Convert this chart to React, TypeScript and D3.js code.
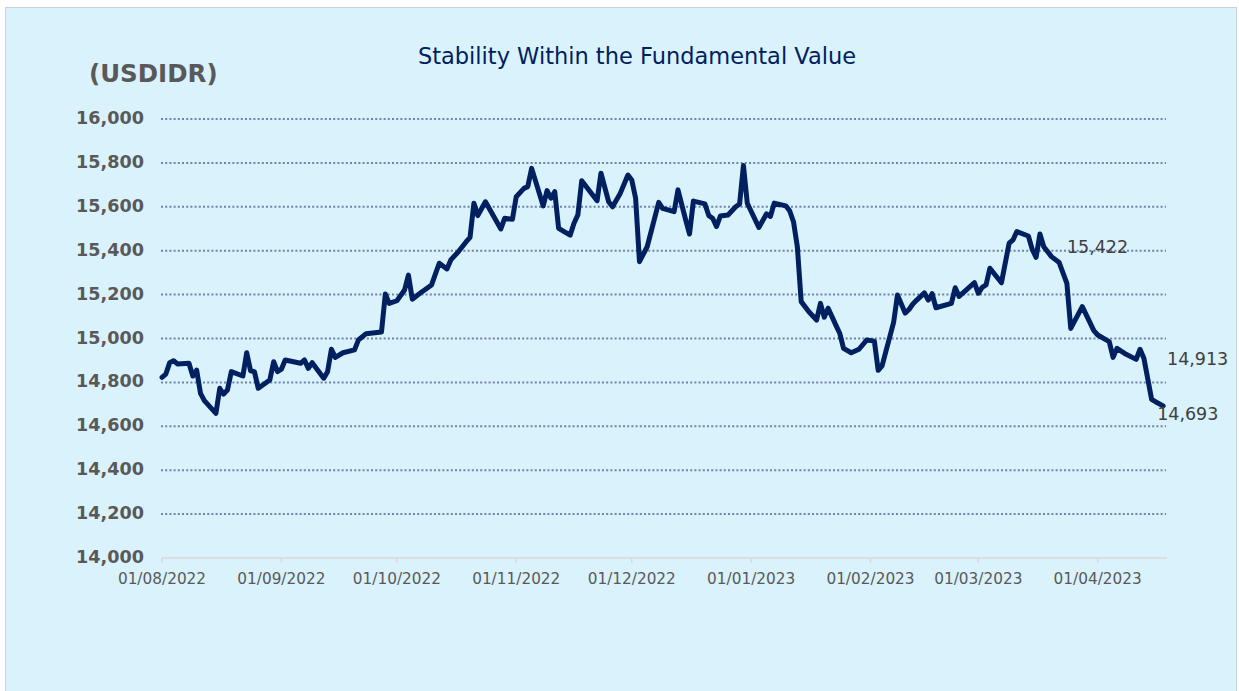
import React from "react";
import * as d3 from "d3";

const dates: string[] = [
  "2022-08-01","2022-08-02","2022-08-03","2022-08-04","2022-08-05","2022-08-08","2022-08-09","2022-08-10","2022-08-11","2022-08-12",
  "2022-08-15","2022-08-16","2022-08-17","2022-08-18","2022-08-19","2022-08-22","2022-08-23","2022-08-24","2022-08-25","2022-08-26",
  "2022-08-29","2022-08-30","2022-08-31","2022-09-01","2022-09-02","2022-09-06","2022-09-07","2022-09-08","2022-09-09","2022-09-12",
  "2022-09-13","2022-09-14","2022-09-15","2022-09-17","2022-09-20","2022-09-21","2022-09-23","2022-09-27","2022-09-28","2022-09-29",
  "2022-10-01","2022-10-03","2022-10-04","2022-10-05","2022-10-07","2022-10-10","2022-10-12","2022-10-14","2022-10-15","2022-10-17",
  "2022-10-19","2022-10-20","2022-10-21","2022-10-22","2022-10-24","2022-10-28","2022-10-29","2022-10-31","2022-11-01","2022-11-03",
  "2022-11-04","2022-11-05","2022-11-08","2022-11-09","2022-11-10","2022-11-11","2022-11-12","2022-11-15","2022-11-16","2022-11-17",
  "2022-11-18","2022-11-22","2022-11-23","2022-11-25","2022-11-26","2022-11-28","2022-11-30","2022-12-01","2022-12-02","2022-12-03",
  "2022-12-05","2022-12-08","2022-12-09","2022-12-12","2022-12-13","2022-12-15","2022-12-16","2022-12-17","2022-12-20","2022-12-21",
  "2022-12-22","2022-12-23","2022-12-24","2022-12-26","2022-12-28","2022-12-29","2022-12-30","2022-12-31","2023-01-03","2023-01-05",
  "2023-01-06","2023-01-07","2023-01-10","2023-01-11","2023-01-12","2023-01-13","2023-01-14","2023-01-16","2023-01-18","2023-01-19",
  "2023-01-20","2023-01-21","2023-01-23","2023-01-24","2023-01-25","2023-01-27","2023-01-29","2023-01-31","2023-02-02","2023-02-03",
  "2023-02-04","2023-02-07","2023-02-08","2023-02-10","2023-02-11","2023-02-12","2023-02-13","2023-02-15","2023-02-16","2023-02-17",
  "2023-02-18","2023-02-22","2023-02-23","2023-02-24","2023-02-28","2023-03-01","2023-03-02","2023-03-03","2023-03-04","2023-03-07",
  "2023-03-09","2023-03-10","2023-03-11","2023-03-14","2023-03-15","2023-03-16","2023-03-17","2023-03-18","2023-03-20","2023-03-22",
  "2023-03-24","2023-03-25","2023-03-28","2023-03-31","2023-04-01","2023-04-04","2023-04-05","2023-04-06","2023-04-08","2023-04-11",
  "2023-04-12","2023-04-13","2023-04-15","2023-04-16","2023-04-18",
];

const usdidr: number[] = [
  14823,14838,14890,14899,14884,14887,14829,14856,14750,14717,
  14659,14773,14747,14765,14849,14829,14935,14853,14849,14773,
  14811,14894,14849,14860,14902,14887,14902,14864,14890,14819,
  14849,14951,14914,14935,14948,14993,15022,15030,15203,15160,
  15172,15221,15289,15179,15206,15244,15343,15317,15358,15396,
  15441,15461,15616,15560,15623,15499,15548,15543,15646,15684,
  15692,15775,15604,15674,15639,15669,15502,15471,15525,15563,
  15719,15628,15753,15623,15600,15661,15745,15722,15639,15350,
  15418,15620,15593,15578,15677,15540,15476,15626,15613,15560,
  15548,15510,15558,15563,15600,15613,15788,15616,15506,15568,
  15556,15617,15604,15582,15532,15418,15168,15122,15084,15160,
  15097,15138,15061,15024,14955,14935,14951,14993,14988,14855,
  14875,15073,15198,15116,15132,15157,15175,15208,15175,15204,
  15140,15160,15231,15192,15254,15206,15233,15244,15320,15254,
  15434,15449,15487,15467,15406,15370,15476,15418,15373,15346,
  15251,15046,15145,15036,15016,14986,14914,14955,14932,14905,
  14951,14910,14723,14712,14693,
];

const yTicks: number[] = [14000, 14200, 14400, 14600, 14800, 15000, 15200, 15400, 15600, 15800, 16000];
const xTickDates: string[] = [
  "2022-08-01","2022-09-01","2022-10-01","2022-11-01","2022-12-01",
  "2023-01-01","2023-02-01","2023-03-01","2023-04-01",
];
const domainDates: string[] = ["2022-08-01", "2023-04-19"];
const labelTexts: { text: string; value: number }[] = [
  { text: "15,422", value: 15422 },
  { text: "14,913", value: 14913 },
  { text: "14,693", value: 14693 },
];
const titleText = "Stability Within the Fundamental Value";
const unitText = "(USDIDR)";

export default function App() {
  const W = 1239;
  const H = 691;
  const parse = d3.utcParse("%Y-%m-%d");
  const fmt = d3.utcFormat("%d/%m/%Y");
  const x = d3.scaleUtc()
    .domain(domainDates.map((s) => parse(s) as Date))
    .range([162, 1167]);
  const y = d3.scaleLinear().domain([14000, 16000]).range([558, 119]);

  const pts = dates.map((s, i) => [parse(s) as Date, usdidr[i]] as [Date, number]);
  const line = d3.line<[Date, number]>()
    .x((d) => x(d[0]))
    .y((d) => y(d[1]));

  const fmtNum = d3.format(",");
  const lastDate = parse(dates[dates.length - 1]) as Date;

  const gridColor = "#7083aa";
  const axisGray = "#d9d9d9";
  const txtGray = "#595959";
  const navy = "#002060";

  return (
    <div style={{ position: "absolute", left: 0, top: 0 }}>
      <svg width={W} height={H} style={{ display: "block" }}>
        <rect x={0} y={0} width={W} height={H} fill="#ffffff" />
        <rect x={5.5} y={7.5} width={1231} height={690} fill="#daf2fc" stroke="#d0d0d0" strokeWidth={1} />
        <text x={637} y={57} textAnchor="middle" dominantBaseline="middle"
          fontFamily="DejaVu Sans, Verdana, sans-serif" fontSize={22.5} fill={navy}>
          {titleText}
        </text>
        <text x={89} y={75} dominantBaseline="middle"
          fontFamily="DejaVu Sans, Verdana, sans-serif" fontSize={24.5} fontWeight="bold" fill={txtGray}>
          {unitText}
        </text>
        {yTicks.map((t) => (
          <g key={t}>
            {t > 14000 && (
              <line x1={161} x2={1166} y1={y(t)} y2={y(t)} stroke={gridColor}
                strokeWidth={2} strokeDasharray="2,2.2" />
            )}
            <text x={144} y={y(t)} textAnchor="end" dominantBaseline="middle"
              fontFamily="DejaVu Sans, Verdana, sans-serif" fontSize={17.6} fontWeight="bold" fill={txtGray}>
              {fmtNum(t)}
            </text>
          </g>
        ))}
        <line x1={162} x2={1167} y1={y(14000)} y2={y(14000)} stroke={axisGray} strokeWidth={1.5} />
        {xTickDates.map((s) => {
          const d = parse(s) as Date;
          const xx = x(d);
          return (
            <g key={s}>
              <line x1={xx} x2={xx} y1={y(14000)} y2={y(14000) + 5} stroke={axisGray} strokeWidth={1.5} />
              <text x={xx} y={579} textAnchor="middle" dominantBaseline="middle"
                fontFamily="DejaVu Sans, Verdana, sans-serif" fontSize={15.3} fill={txtGray}>
                {fmt(d)}
              </text>
            </g>
          );
        })}
        <path d={line(pts) || ""} fill="none" stroke={navy} strokeWidth={5}
          strokeLinejoin="round" strokeLinecap="round" />
        <text x={x(parse("2023-03-24") as Date)} y={y(labelTexts[0].value) + 2} dominantBaseline="middle"
          fontFamily="DejaVu Sans, Verdana, sans-serif" fontSize={17.5} fill="#404040">
          {labelTexts[0].text}
        </text>
        <text x={x.range()[1]} y={y(labelTexts[1].value) + 2} dominantBaseline="middle"
          fontFamily="DejaVu Sans, Verdana, sans-serif" fontSize={17.5} fill="#404040">
          {labelTexts[1].text}
        </text>
        <text x={x(lastDate) - 6} y={y(labelTexts[2].value) + 9} dominantBaseline="middle"
          fontFamily="DejaVu Sans, Verdana, sans-serif" fontSize={17.5} fill="#404040">
          {labelTexts[2].text}
        </text>
      </svg>
    </div>
  );
}
